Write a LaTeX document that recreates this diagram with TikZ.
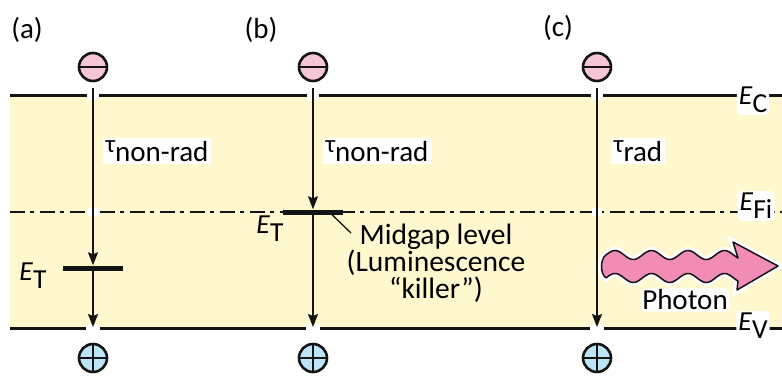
\documentclass[tikz,border=0pt]{standalone}
\usepackage{fontspec}
\setmainfont{Carlito}
\usetikzlibrary{arrows.meta}
\definecolor{bandyellow}{HTML}{FFF8CE}
\definecolor{elecpink}{HTML}{F6C6D6}
\definecolor{holeblue}{HTML}{BDE4F6}
\definecolor{photonpink}{HTML}{F08CB6}
\definecolor{ink}{HTML}{141414}
\newcommand\txtfont{\fontsize{29.5}{27}\selectfont}
\newcommand\labfont{\fontsize{29}{29}\selectfont}
\newcommand\efont{\fontsize{27.5}{27}\selectfont}
\newcommand\taufont{\fontsize{25}{25}\selectfont}
\tikzset{
  bandline/.style={draw=ink, line width=3pt},
  fiLine/.style={draw=ink, line width=2pt, dash pattern=on 15pt off 5pt on 4pt off 6pt},
  arr/.style={draw=ink, line width=1.7pt, -{Stealth[length=13pt,width=10pt,inset=2pt]}},
  trap/.style={fill=ink, minimum width=60pt, minimum height=5pt, inner sep=0pt, draw=none},
  elec/.style={circle, draw=ink, line width=2.6pt, fill=elecpink, minimum size=28pt, inner sep=0pt},
  hole/.style={circle, draw=ink, line width=2.6pt, fill=holeblue, minimum size=28pt, inner sep=0pt},
  innerline/.style={draw=ink, line width=2.3pt},
  taulabel/.style={fill=white, inner sep=2.5pt, font=\labfont},
  elabel/.style={fill=white, rounded corners=4pt, inner sep=2pt, font=\efont},
  plainlabel/.style={font=\txtfont},
  gap/.style={fill=white, draw=none},
}
\begin{document}
\begin{tikzpicture}[x=1pt,y=-1pt]
\useasboundingbox (0,0) rectangle (782,376);
% band
\fill[bandyellow] (10,95) rectangle (782,328);
\coordinate (ecL) at (10,95); \coordinate (ecR) at (782,95);
\coordinate (evL) at (10,328); \coordinate (evR) at (782,328);
\coordinate (fiL) at (10,212); \coordinate (fiR) at (782,212);
\draw[bandline] (ecL) -- (ecR);
\draw[bandline] (evL) -- (evR);
\draw[fiLine] (fiL) -- (fiR);
% gaps where arrows cross lines
\foreach \xx in {93,313,597}{
  \fill[gap] (\xx-6,91) rectangle (\xx+6,99.5);
  \fill[gap] (\xx-7,324) rectangle (\xx+7,332.5);
}
\fill[gap] (91-4,208) rectangle (95+4,216);
\fill[gap] (597-5,208) rectangle (597+5,216);
% panel labels
\node[font=\labfont] (pa) at (27,30) {(a)};
\node[font=\labfont] (pb) at (261,30) {(b)};
\node[font=\labfont] (pc) at (558,28) {(c)};
% carriers
\foreach \n/\xx in {a/93,b/313,c/597}{
  \node[elec] (e\n) at (\xx,67) {};
  \draw[innerline] (e\n.west) -- (e\n.east);
  \node[hole] (h\n) at (\xx,358) {};
  \draw[innerline] (h\n.west) -- (h\n.east);
  \draw[innerline] (h\n.north) -- (h\n.south);
  \coordinate (v\n) at (\xx,327);
}
% trap levels
\node[trap] (la) at (93,268) {};
\node[trap] (lb) at (313,212) {};
% arrows
\draw[arr] ([yshift=-6pt]ea.south) -- (la.north);
\draw[arr] (la.south) -- (va);
\draw[arr] ([yshift=-6pt]eb.south) -- (lb.north);
\draw[arr] (lb.south) -- (vb);
\draw[arr] ([yshift=-6pt]ec.south) -- (vc);
% tau labels
\node[taulabel] (ta) at (157,151) {{\taufont τ}\raisebox{-9pt}{non-rad}};
\node[taulabel] (tb) at (377,151) {{\taufont τ}\raisebox{-9pt}{non-rad}};
\node[taulabel] (tc) at (638,151) {{\taufont τ}\raisebox{-9pt}{rad}};
% E_T labels
\node[font=\efont] (eta) at (33,276) {\textit{E}\raisebox{-8pt}{T}};
\node[font=\efont] (etb) at (270,229) {\textit{E}\raisebox{-8pt}{T}};
% midgap annotation
\node[plainlabel, align=center] (mid) at (436,263) {Midgap level\\(Luminescence\\“killer”)};
\coordinate (lead) at (351,233);
\draw[ink, line width=1.3pt] ([xshift=19pt]lb.south) -- (lead);
% band edge labels
\node[elabel] (lc) at (753,100) {\textit{E}\raisebox{-8pt}{C}};
\node[elabel] (lfi) at (756,206) {\textit{E}\raisebox{-8pt}{Fi}};
\node[elabel] (lv) at (753,326) {\textit{E}\raisebox{-8pt}{V}};
% photon
\path[draw=ink, line width=1.5pt, fill=photonpink, line join=round,
      preaction={draw=white, line width=7pt}]
  plot[domain=606:738, samples=80, smooth] (\x,{255-4.5*cos(9.863*(\x-615))})
  -- (733,242) -- (778,266) -- (737,290)
  -- plot[domain=738:606, samples=80, smooth] (\x,{278-4.5*cos(9.863*(\x-615))})
  .. controls (600,274) and (600,259) .. cycle;
\node[font=\labfont, fill=white, rounded corners=5pt, inner sep=1.5pt] (ph) at (685,300) {Photon};
\end{tikzpicture}
\end{document}
